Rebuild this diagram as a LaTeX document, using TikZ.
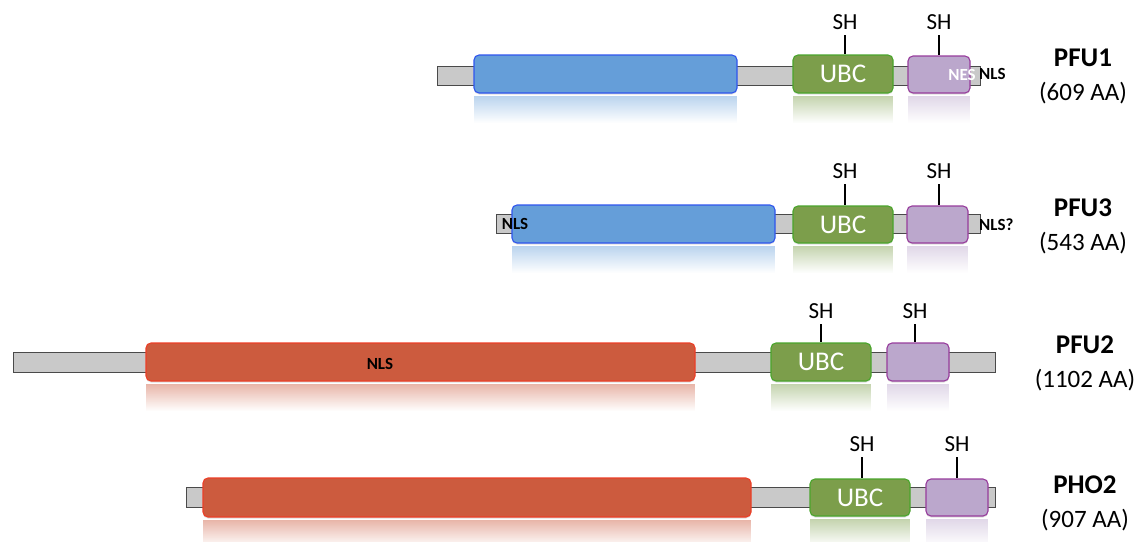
\documentclass[tikz,border=0pt]{standalone}
\usepackage{fontspec}
\setmainfont{Carlito}
\usetikzlibrary{fadings,shadows}

\definecolor{barfill}{HTML}{C9C9C9}
\definecolor{barline}{HTML}{4A4A4A}
\definecolor{bluefill}{HTML}{659ED9}
\definecolor{blueline}{HTML}{2F55EE}
\definecolor{redfill}{HTML}{CC5B3E}
\definecolor{redline}{HTML}{EC3F27}
\definecolor{greenfill}{HTML}{7C9E4B}
\definecolor{greenline}{HTML}{4AA52C}
\definecolor{purplefill}{HTML}{BBA7CC}
\definecolor{purpleline}{HTML}{973C9C}

\tikzset{
  backbone/.style={draw=barline, fill=barfill, line width=1pt,
    drop shadow={shadow xshift=0pt, shadow yshift=-1pt, opacity=0.25}},
  dombox/.style={rounded corners=5pt, line width=1.1pt, inner sep=0pt,
    drop shadow={shadow xshift=0pt, shadow yshift=-1.5pt, opacity=0.25}},
  bluedom/.style={dombox, draw=blueline, fill=bluefill},
  reddom/.style={dombox, draw=redline, fill=redfill},
  greendom/.style={dombox, draw=greenline, fill=greenfill, text=white,
    font=\fontsize{27}{27}\selectfont},
  purpledom/.style={dombox, draw=purpleline, fill=purplefill},
  shtag/.style={font=\fontsize{23}{23}\selectfont, inner sep=0pt, anchor=base},
  shline/.style={line width=2.4pt, black},
  motif/.style={font=\bfseries\fontsize{17}{17}\selectfont, inner sep=0pt},
  pname/.style={font=\bfseries\fontsize{27}{27}\selectfont, inner sep=0pt},
  plen/.style={font=\fontsize{25}{25}\selectfont, inner sep=0pt},
}

% a domain box with its faded mirror image below it
% #1 name, #2 style, #3 fill colour, #4 x1, #5 y1, #6 x2, #7 y2, #8 text
\newcommand\domainbox[8]{%
  \fill[#3, path fading=south, opacity=0.45]
    (#4, #7+3) rectangle (#6, #7+30);
  \node[#2, minimum width=#6pt-#4pt, minimum height=#7pt-#5pt]
    (#1) at ({(#4+#6)/2}, {(#5+#7)/2}) {#8};
}

\begin{document}
\begin{tikzpicture}[x=1pt, y=-1pt]
\useasboundingbox (0,0) rectangle (1139,541);

% ---------------- PFU1 ----------------
\draw[backbone] (437,66) rectangle (980,85);
\domainbox{b1}{bluedom}{bluefill}{474}{55}{737}{93}{}
\domainbox{u1}{greendom}{greenfill}{793}{55}{893}{93}{UBC}
\domainbox{p1}{purpledom}{purplefill}{908}{56}{970}{93}{}
\node[motif, text=white] (nes1) at (962,75) {NES};
\node[motif, anchor=west] (nls1) at (979,74) {NLS};
\node[shtag] (sha1) at (845,29) {SH};
\node[shtag] (shb1) at (939,29) {SH};
\coordinate (ta1) at (845,35);
\coordinate (tb1) at (939,35);
\draw[shline] (ta1) -- (u1.north -| ta1);
\draw[shline] (tb1) -- (p1.north -| tb1);
\node[pname] (n1) at (1083,58) {PFU1};
\node[plen] (l1) at (1083,93) {(609 AA)};

% ---------------- PFU3 ----------------
\draw[backbone] (496,214) rectangle (980,233);
\domainbox{b3}{bluedom}{bluefill}{512}{205}{775}{243}{}
\domainbox{u3}{greendom}{greenfill}{793}{206}{893}{243}{UBC}
\domainbox{p3}{purpledom}{purplefill}{907}{206}{968}{243}{}
\node[motif] (nls3a) at (515,224) {NLS};
\node[motif, anchor=west] (nls3b) at (979,225) {NLS?};
\node[shtag] (sha3) at (845,178) {SH};
\node[shtag] (shb3) at (939,178) {SH};
\coordinate (ta3) at (845,184);
\coordinate (tb3) at (939,184);
\draw[shline] (ta3) -- (u3.north -| ta3);
\draw[shline] (tb3) -- (p3.north -| tb3);
\node[pname] (n3) at (1083,208) {PFU3};
\node[plen] (l3) at (1083,243) {(543 AA)};

% ---------------- PFU2 ----------------
\draw[backbone] (13,352) rectangle (995,372);
\domainbox{r2}{reddom}{redfill}{146}{343}{695}{381}{}
\domainbox{u2}{greendom}{greenfill}{771}{343}{871}{381}{UBC}
\domainbox{p2}{purpledom}{purplefill}{887}{343}{949}{381}{}
\node[motif] (nls2) at (380,364) {NLS};
\node[shtag] (sha2) at (821,318) {SH};
\node[shtag] (shb2) at (915,318) {SH};
\coordinate (ta2) at (821,324);
\coordinate (tb2) at (915,324);
\draw[shline] (ta2) -- (u2.north -| ta2);
\draw[shline] (tb2) -- (p2.north -| tb2);
\node[pname] (n2) at (1085,345) {PFU2};
\node[plen] (l2) at (1085,380) {(1102 AA)};

% ---------------- PHO2 ----------------
\draw[backbone] (186,487) rectangle (995,507);
\domainbox{r4}{reddom}{redfill}{203}{478}{751}{517}{}
\domainbox{u4}{greendom}{greenfill}{810}{479}{910}{516}{UBC}
\domainbox{p4}{purpledom}{purplefill}{926}{479}{988}{516}{}
\node[shtag] (sha4) at (862,451) {SH};
\node[shtag] (shb4) at (957,451) {SH};
\coordinate (ta4) at (862,457);
\coordinate (tb4) at (957,457);
\draw[shline] (ta4) -- (u4.north -| ta4);
\draw[shline] (tb4) -- (p4.north -| tb4);
\node[pname] (n4) at (1085,485) {PHO2};
\node[plen] (l4) at (1085,520) {(907 AA)};
\end{tikzpicture}
\end{document}
